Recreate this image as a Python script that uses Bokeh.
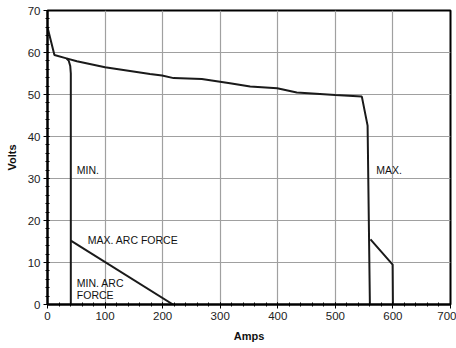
from bokeh.plotting import figure
from bokeh.models import Range1d
from bokeh.core.properties import value
from bokeh.embed import file_html
from bokeh.resources import INLINE

# Data
max_amps = [0, 12, 33, 51, 100, 178, 199, 219, 268, 317, 352, 399, 433, 500, 546, 556, 560]
max_volts = [66, 59.4, 58.6, 57.9, 56.5, 54.9, 54.5, 53.9, 53.7, 52.7, 51.9, 51.5, 50.5, 49.9, 49.5, 42.6, 0]

min_amps = [33, 37, 39.5, 40.5, 40.5]
min_volts = [58.6, 58.0, 56.8, 55.0, 0]

arc_max_amps = [40.5, 218]
arc_max_volts = [15.2, 0]

maxarc_amps = [561, 599.5, 600]
maxarc_volts = [15.5, 9.5, 0]

label_text = ["MIN.", "MAX.", "MAX. ARC FORCE", "MIN. ARC", "FORCE"]
label_x = [51, 571, 70, 51, 51]
label_y = [32, 32, 15.3, 5.2, 2.3]

FONT = "Liberation Sans"

p = figure(width=456, height=348, output_backend="svg", toolbar_location=None,
           x_range=Range1d(0, 700), y_range=Range1d(0, 70),
           min_border_left=47, min_border_right=6, min_border_top=10, min_border_bottom=44)

p.outline_line_color = "black"
p.outline_line_width = 2
p.background_fill_color = "white"
p.border_fill_color = "white"

for g in (p.xgrid[0], p.ygrid[0]):
    g.grid_line_color = "#a0a0a0"
    g.grid_line_width = 1.2

p.xaxis.axis_label = "Amps"
p.yaxis.axis_label = "Volts"
for ax in (p.xaxis[0], p.yaxis[0]):
    ax.axis_line_color = "black"
    ax.axis_line_width = 2
    ax.major_tick_line_color = "black"
    ax.minor_tick_line_color = "black"
    ax.major_tick_in = 2
    ax.major_tick_out = 4
    ax.minor_tick_in = 2
    ax.minor_tick_out = 2
    ax.major_label_text_font = FONT
    ax.major_label_text_font_size = "11.5px"
    ax.major_label_text_color = "#222222"
    ax.axis_label_text_font = FONT
    ax.axis_label_text_font_size = "11px"
    ax.axis_label_text_font_style = "bold"
    ax.axis_label_text_color = "#111111"
    ax.major_label_standoff = 3
    ax.axis_label_standoff = 7
p.xaxis.ticker.desired_num_ticks = 8
p.xaxis.ticker.num_minor_ticks = 5
p.yaxis.ticker.desired_num_ticks = 8
p.yaxis.ticker.num_minor_ticks = 5

lc = "#1a1a1a"
p.line(max_amps, max_volts, line_color=lc, line_width=2)
p.line(min_amps, min_volts, line_color=lc, line_width=2)
p.line(arc_max_amps, arc_max_volts, line_color=lc, line_width=2)
p.line(maxarc_amps, maxarc_volts, line_color=lc, line_width=2)

p.text(x=label_x, y=label_y, text=label_text, text_font=value(FONT),
       text_font_size="10.5px", text_baseline="middle", text_align="left",
       text_color="#111111")

open("out.html", "w").write(file_html(p, INLINE))
